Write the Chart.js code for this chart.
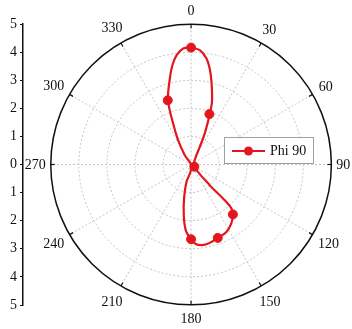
<!DOCTYPE html>
<html>
<head>
<meta charset="utf-8">
<script src="https://cdn.jsdelivr.net/npm/chart.js@4"></script>
<style>
  body { margin: 0; background: #fff; }
  #wrap { width: 352px; height: 329px; position: relative; }
</style>
</head>
<body>
<div id="wrap"><canvas id="myChart"></canvas></div>
<script>
// Diagrama polar Phi 90 (Chart.js, scatter em coordenadas polares)

// curva (angulo em graus, sentido horario a partir do topo)
const curveAngles = [0, 4.4, 8.3, 11, 13.9, 18.3, 20.4, 23.8, 26.3, 40.7, 124.5,
  137.9, 136.7, 137.4, 140, 145.6, 152.3, 159.8, 169.1, 176.1, 180,
  184.6, 188.2, 191.6, 194.8, 184.6, 270,
  325.9, 331.9, 336.3, 340.3, 346.1, 349.4, 352.4, 356.1, 360];
const curveRadii = [4.16, 4.08, 3.81, 3.48, 3.03, 2.38, 1.91, 1.21, 0.70, 0.20, 0.14,
  0.99, 1.66, 2.13, 2.32, 2.54, 2.71, 2.78, 2.89, 2.85, 2.66,
  2.35, 1.82, 1.24, 0.64, 0.26, 0,
  0.40, 0.98, 1.59, 2.43, 3.15, 3.60, 3.92, 4.14, 4.16];

// marcadores
const markerAngles = [0, 20, 124, 140, 160, 180, 340];
const markerRadii = [4.16, 1.91, 0.14, 2.32, 2.78, 2.66, 2.43];

const angleTicks = [0, 30, 60, 90, 120, 150, 180, 210, 240, 270, 300, 330];
const ringTicks = [1, 2, 3, 4];
const rMax = 5;
const seriesName = 'Phi 90';

const red = '#e3161e';
const serif = '"Liberation Serif", "Times New Roman", serif';

function toXY(a, r) {
    var t = a * Math.PI / 180;
    return { x: r * Math.sin(t), y: r * Math.cos(t) };
}

const curveData = curveAngles.map((a, i) => toXY(a, curveRadii[i]));
const markerData = markerAngles.map((a, i) => toXY(a, markerRadii[i]));

// grade polar, circulo externo e rotulos dos angulos
const polarGrid = {
    id: 'polarGrid',
    beforeDatasetsDraw(chart) {
        const ctx = chart.ctx;
        const xs = chart.scales.x, ys = chart.scales.y;
        const cx = xs.getPixelForValue(0), cy = ys.getPixelForValue(0);
        const k = xs.getPixelForValue(1) - cx;
        const R = rMax * k;
        ctx.save();
        ctx.strokeStyle = '#c4c4c4';
        ctx.lineWidth = 1;
        ctx.setLineDash([2, 2]);
        ringTicks.forEach(r => {
            ctx.beginPath();
            ctx.arc(cx, cy, r * k, 0, Math.PI * 2);
            ctx.stroke();
        });
        angleTicks.forEach(a => {
            const t = a * Math.PI / 180;
            ctx.beginPath();
            ctx.moveTo(cx, cy);
            ctx.lineTo(cx + R * Math.sin(t), cy - R * Math.cos(t));
            ctx.stroke();
        });
        ctx.setLineDash([]);
        ctx.strokeStyle = '#111';
        ctx.lineWidth = 1.5;
        ctx.beginPath();
        ctx.arc(cx, cy, R, 0, Math.PI * 2);
        ctx.stroke();
        ctx.font = '14px ' + serif;
        ctx.fillStyle = '#111';
        ctx.textAlign = 'center';
        ctx.textBaseline = 'middle';
        angleTicks.forEach(a => {
            const t = a * Math.PI / 180;
            const s = Math.sin(t), c = Math.cos(t);
            ctx.lineWidth = 1.2;
            ctx.beginPath();
            ctx.moveTo(cx + R * s, cy - R * c);
            ctx.lineTo(cx + (R - 4) * s, cy - (R - 4) * c);
            ctx.stroke();
            const txt = String(a);
            const w = ctx.measureText(txt).width;
            const d = R + 5 + 3.5 * Math.abs(c) + (w / 2) * Math.abs(s) + 5 * Math.abs(c);
            ctx.fillText(txt, cx + d * s, cy - d * c + 1);
        });
        ctx.restore();
    },
    afterDraw(chart) {
        // legenda
        const ctx = chart.ctx;
        ctx.save();
        ctx.fillStyle = '#fff';
        ctx.fillRect(224, 137, 89, 26);
        ctx.strokeStyle = '#a0a0a0';
        ctx.lineWidth = 1;
        ctx.strokeRect(224.5, 137.5, 89, 26);
        ctx.strokeStyle = red;
        ctx.lineWidth = 2.2;
        ctx.beginPath();
        ctx.moveTo(232, 151);
        ctx.lineTo(265, 151);
        ctx.stroke();
        ctx.fillStyle = red;
        ctx.beginPath();
        ctx.arc(248.5, 151, 4.5, 0, Math.PI * 2);
        ctx.fill();
        ctx.fillStyle = '#111';
        ctx.font = '14px ' + serif;
        ctx.textAlign = 'left';
        ctx.textBaseline = 'middle';
        ctx.fillText(seriesName, 270, 151);
        ctx.restore();
    }
};

const ctx = document.getElementById('myChart').getContext('2d');
const myChart = new Chart(ctx, {
    type: 'scatter',
    data: {
        datasets: [{
            label: seriesName,
            data: markerData,
            showLine: false,
            pointRadius: 4.5,
            pointBackgroundColor: red,
            pointBorderColor: red,
            pointBorderWidth: 1
        }, {
            label: seriesName + ' curve',
            data: curveData,
            showLine: true,
            tension: 0.35,
            borderColor: red,
            borderWidth: 2.2,
            pointRadius: 0
        }]
    },
    options: {
        responsive: true,
        maintainAspectRatio: false,
        animation: false,
        layout: { padding: { top: 24, bottom: 24, left: 0, right: 5 } },
        plugins: {
            legend: { display: false },
            tooltip: { enabled: false }
        },
        scales: {
            x: {
                type: 'linear',
                display: false,
                min: -5.99,
                max: 5.54
            },
            y: {
                type: 'linear',
                position: 'left',
                min: -rMax,
                max: rMax,
                afterFit: function(scale) { scale.width = 23; },
                ticks: {
                    stepSize: 1,
                    padding: 3,
                    color: '#111',
                    font: { family: serif, size: 14 },
                    callback: v => Math.abs(v)
                },
                grid: {
                    drawOnChartArea: false,
                    tickLength: 3,
                    color: '#111',
                    lineWidth: 1
                },
                border: { color: '#111', width: 1.5 }
            }
        }
    },
    plugins: [polarGrid]
});
</script>
</body>
</html>
